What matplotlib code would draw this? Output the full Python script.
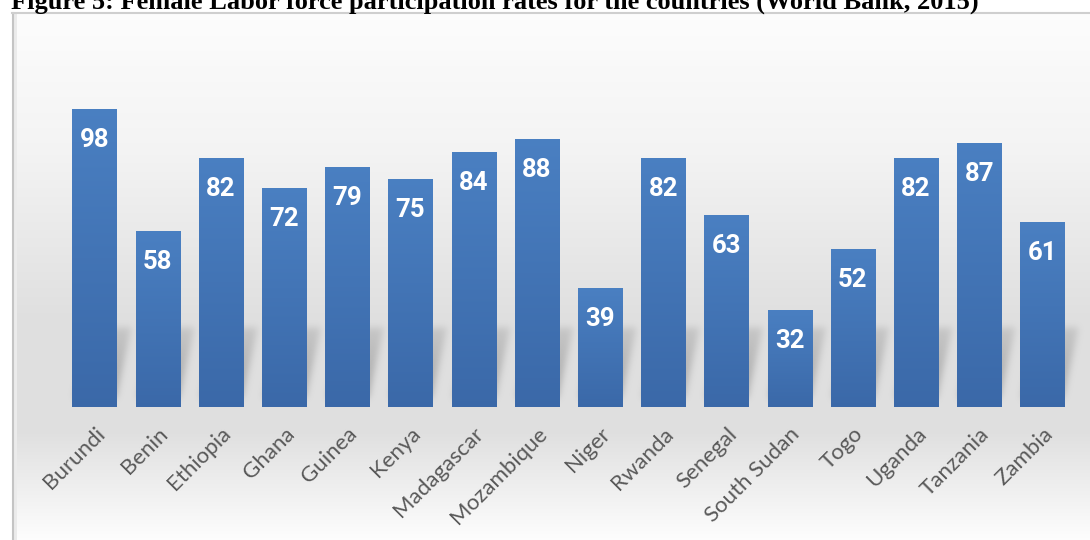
import matplotlib.pyplot as plt
import numpy as np
from matplotlib.patches import Rectangle

countries = ["Burundi", "Benin", "Ethiopia", "Ghana", "Guinea", "Kenya", "Madagascar",
             "Mozambique", "Niger", "Rwanda", "Senegal", "South Sudan", "Togo",
             "Uganda", "Tanzania", "Zambia"]
rates = [98, 58, 82, 72, 79, 75, 84, 88, 39, 82, 63, 32, 52, 82, 87, 61]

title = "Figure 5: Female Labor force participation rates for the countries (World Bank, 2015)"

W, H = 1090, 540
fig = plt.figure(figsize=(W / 100, H / 100), dpi=100)

# background of the chart box: light vertical gradient
bg = fig.add_axes([0, 0, 1, 1])
bg.set_xlim(0, W)
bg.set_ylim(H, 0)
bg.axis("off")
rows = np.arange(13, H)
shade = np.interp(rows, [13, 150, 320, 430, 540], [0.99, 0.955, 0.875, 0.875, 0.995])
grad = np.repeat(shade[:, None, None], 3, axis=2)
bg.imshow(grad, extent=[12, W, H, 13], aspect="auto", vmin=0, vmax=1)
bg.add_patch(Rectangle((13, 14), 4, H, color="#ebebeb", lw=0))
bg.plot([12.5, 12.5], [13, H], color="#c4c4c4", lw=1.5)
bg.plot([12, W], [13, 13], color="#cfcfcf", lw=1.5)

fig.text(11 / W, 1 - 9 / H, title, family="Liberation Serif", fontweight="bold",
         fontsize=19, va="baseline", ha="left", color="black")

# plotting axes, pixel layout: bar i centred at 94.5 + 63.2*i, baseline at y=407
step, x0px, base = 63.2, 94.5, 407
pxu = 3.04
left, right, top = 12, W, 13
ax = fig.add_axes([left / W, (H - base) / H, (right - left) / W, (base - top) / H])
ax.set_xlim((left - x0px) / step, (right - x0px) / step)
ax.set_ylim(0, (base - top) / pxu)
ax.patch.set_alpha(0)
for s in ax.spines.values():
    s.set_visible(False)
ax.set_yticks([])

x = np.arange(len(countries))
bw = 0.7

# soft perspective shadow behind each bar
xs = np.linspace(*ax.get_xlim(), right - left)
ys = np.linspace(0, 45, int(45 * pxu))
XX, YY = np.meshgrid(xs, ys)
mask = np.zeros_like(XX)
sh_h = 26
for xi, v in zip(x, rates):
    shift = YY * pxu * 0.22 / step
    inside = (XX >= xi - bw / 2 + shift) & (XX <= xi + bw / 2 - 0.05 + shift) \
        & (YY <= min(sh_h, v)) & (YY >= 3)
    mask = np.maximum(mask, inside * (1 - 0.6 * YY / sh_h))
k = np.exp(-0.5 * (np.arange(-12, 13) / 3.5) ** 2)
k /= k.sum()
mask = np.apply_along_axis(lambda r: np.convolve(r, k, mode="same"), 1, mask)
mask = np.apply_along_axis(lambda c: np.convolve(c, k, mode="same"), 0, mask)
rgba = np.zeros(mask.shape + (4,))
rgba[..., :3] = 0.4
rgba[..., 3] = mask * 0.5
ax.imshow(rgba, extent=[xs[0], xs[-1], 0, 45], origin="lower", aspect="auto", zorder=1)

# bars with a gentle top-to-bottom gradient
bars = ax.bar(x, rates, width=bw, color="#4477b9", zorder=2)
cmap_col = np.linspace([0.29, 0.50, 0.76], [0.23, 0.41, 0.66], 200)[:, None, :]
for b in bars:
    im = ax.imshow(cmap_col, extent=[b.get_x(), b.get_x() + bw, 0, b.get_height()],
                   origin="upper", aspect="auto", zorder=3)
    im.set_clip_path(b)

for xi, v in zip(x, rates):
    ax.text(xi, v - 10.2, str(v), ha="center", va="center", color="white",
            fontweight="bold", fontsize=18.5, family="Roboto", zorder=4)

ax.set_xticks(x)
ax.set_xticklabels(countries, rotation=45, ha="right", rotation_mode="anchor",
                   family="Lato", fontsize=16, color="#595959")
ax.tick_params(axis="x", length=0, pad=12)

fig.savefig("out.png", dpi=100)
